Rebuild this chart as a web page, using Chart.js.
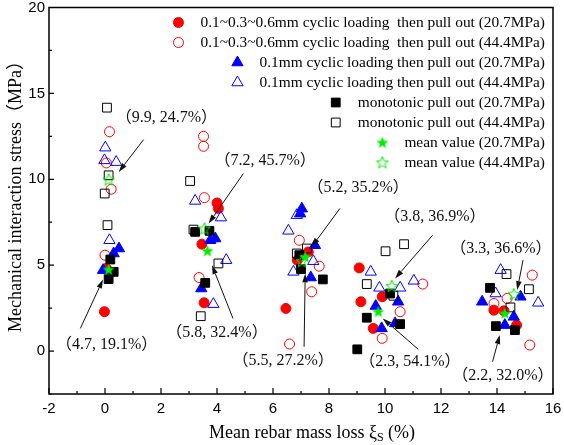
<!DOCTYPE html>
<html>
<head>
<meta charset="utf-8">
<script src="https://cdn.jsdelivr.net/npm/chart.js@4/dist/chart.umd.min.js"></script>
<style>
  html, body { margin: 0; padding: 0; background: #fff; }
</style>
</head>
<body>
<canvas id="chart" width="564" height="445"></canvas>
<script>
// series labels (legend order)
const seriesLabels = [
  "0.1~0.3~0.6mm cyclic loading  then pull out (20.7MPa)",
  "0.1~0.3~0.6mm cyclic loading  then pull out (44.4MPa)",
  "0.1mm cyclic loading then pull out (20.7MPa)",
  "0.1mm cyclic loading then pull out (44.4MPa)",
  "monotonic pull out (20.7MPa)",
  "monotonic pull out (44.4MPa)",
  "mean value (20.7MPa)",
  "mean value (44.4MPa)"
];

// mass loss (%) and stress (MPa)
const cyc06LowX = [0.05, -0.02, 4.0, 4.05, 3.46, 3.54, 7.26, 6.87, 6.46, 9.08, 9.9, 9.14, 9.58, 13.89, 14.25, 14.7];
const cyc06LowY = [4.81, 2.29, 8.62, 8.3, 6.22, 2.81, 5.77, 5.29, 2.48, 4.84, 3.16, 2.87, 1.32, 2.38, 2.34, 1.51];

const cyc06HighX = [0.16, 0.05, 0.22, 0.0, 3.52, 3.52, 3.55, 3.36, 6.94, 7.65, 7.38, 6.59, 11.35, 10.54, 9.9, 15.26, 14.36, 13.89, 15.17];
const cyc06HighY = [12.77, 10.95, 9.42, 5.58, 12.5, 11.92, 8.93, 4.28, 6.45, 4.94, 3.45, 0.41, 3.9, 2.29, 0.74, 4.42, 3.06, 2.77, 0.35];

const cyc01LowX = [0.5, 0.31, -0.07, 3.94, 3.76, 3.44, 7.03, 6.97, 7.5, 7.35, 10.47, 9.67, 10.36, 9.88, 14.84, 13.47, 14.6, 14.28];
const cyc01LowY = [5.97, 5.68, 4.71, 6.55, 6.45, 3.64, 8.29, 8.0, 6.16, 4.28, 2.87, 2.62, 1.61, 1.32, 3.16, 2.87, 1.99, 1.51];

const cyc01HighX = [0.01, -0.02, 0.4, 0.16, 3.22, 4.14, 4.33, 3.87, 6.85, 6.55, 7.44, 6.73, 9.49, 9.8, 10.54, 11.03, 14.13, 13.95, 15.47];
const cyc01HighY = [11.84, 11.1, 11.0, 6.45, 8.74, 7.77, 5.29, 2.73, 7.91, 7.0, 5.23, 4.61, 4.61, 3.68, 3.68, 4.09, 4.71, 3.35, 2.81];

const monoLowX = [0.19, 0.31, 0.13, 3.22, 3.73, 3.58, 6.94, 7.0, 7.78, 10.18, 9.35, 10.54, 9.01, 13.75, 13.96, 14.64];
const monoLowY = [5.33, 4.61, 4.19, 6.94, 7.0, 3.97, 5.58, 4.77, 4.17, 3.35, 1.94, 1.57, 0.1, 3.68, 1.45, 1.22];

const monoHighX = [0.07, 0.13, -0.01, 0.09, 3.04, 3.16, 4.05, 3.42, 7.21, 6.85, 10.02, 10.68, 9.35, 10.3, 14.34, 15.14, 14.48];
const monoHighY = [14.17, 10.23, 9.17, 7.33, 9.9, 7.07, 5.1, 2.03, 5.97, 5.68, 5.81, 6.22, 3.9, 3.22, 4.48, 3.6, 2.54];

const meanLowX = [0.13, 3.66, 7.15, 9.76, 14.28];
const meanLowY = [4.75, 5.83, 5.48, 2.29, 2.19];
const meanHighX = [0.13, 3.55, 7.03, 10.24, 14.6];
const meanHighY = [9.98, 7.13, 5.23, 3.78, 3.31];

// annotation texts (mean stress, loss ratio)
const noteLabels = ["（9.9, 24.7%）", "（4.7, 19.1%）", "（7.2, 45.7%）", "（5.8, 32.4%）", "（5.2, 35.2%）",
                    "（5.5, 27.2%）", "（3.8, 36.9%）", "（2.3, 54.1%）", "（3.3, 36.6%）", "（2.2, 32.0%）"];

// where the notes and their arrows sit, in axis units
const notePos = [[2.19, 13.55], [0.06, 0.35], [5.72, 11.05], [4.0, 1.05], [9.04, 9.48],
                 [6.36, -0.58], [11.78, 7.79], [10.89, -0.64], [14.14, 5.93], [14.21, -1.45]];
const noteArrows = [[1.38, 12.31, 0.49, 10.43], [-0.88, 1.32, -0.07, 4.17], [4.94, 10.33, 3.70, 7.42],
                    [4.57, 1.9, 3.82, 5.0], [8.39, 8.3, 7.38, 6.06], [7.11, 0.25, 7.15, 4.52],
                    [11.7, 6.74, 10.36, 4.23], [11.19, 0.1, 9.92, 1.9], [14.93, 5.29, 14.72, 3.55],
                    [13.84, -0.62, 14.1, 0.93]];

const serif = '"Liberation Serif", "Noto Sans CJK SC", serif';
const sans = '"Liberation Sans", Arial, sans-serif';

function toPoints(xs, ys) {
  return xs.map((x, i) => ({ x: x, y: ys[i] }));
}

// five point star as an image, filled or hollow
function makeStar(filled) {
  const c = document.createElement("canvas");
  c.width = 14; c.height = 14;
  const g = c.getContext("2d");
  const R = 6.3, r = 2.7, cx = 7, cy = 7.4;
  g.beginPath();
  for (let i = 0; i < 10; i++) {
    const rad = i % 2 === 0 ? R : r;
    const a = -Math.PI / 2 + i * Math.PI / 5;
    g.lineTo(cx + rad * Math.cos(a), cy + rad * Math.sin(a));
  }
  g.closePath();
  if (filled) {
    g.fillStyle = "#00ee00";
    g.fill();
  } else {
    g.strokeStyle = "#00ee00";
    g.lineWidth = 1;
    g.stroke();
  }
  return c;
}
const starFull = makeStar(true);
const starHollow = makeStar(false);

const clear = "rgba(0,0,0,0)";
const styles = [
  { pointStyle: "circle", pointRadius: 5, backgroundColor: "#ff0000", borderColor: "#ff0000" },
  { pointStyle: "circle", pointRadius: 5, backgroundColor: clear, borderColor: "#ff0000" },
  { pointStyle: "triangle", pointRadius: 6.5, backgroundColor: "#0000ff", borderColor: "#0000ff" },
  { pointStyle: "triangle", pointRadius: 6.5, backgroundColor: clear, borderColor: "#0000ff" },
  { pointStyle: "rect", pointRadius: 6.2, backgroundColor: "#000000", borderColor: "#000000" },
  { pointStyle: "rect", pointRadius: 6.2, backgroundColor: clear, borderColor: "#000000" },
  { pointStyle: starFull, pointRadius: 6, backgroundColor: "#00ee00", borderColor: "#00ee00" },
  { pointStyle: starHollow, pointRadius: 6, backgroundColor: clear, borderColor: "#00ee00" }
];
const seriesData = [
  toPoints(cyc06LowX, cyc06LowY), toPoints(cyc06HighX, cyc06HighY),
  toPoints(cyc01LowX, cyc01LowY), toPoints(cyc01HighX, cyc01HighY),
  toPoints(monoLowX, monoLowY), toPoints(monoHighX, monoHighY),
  toPoints(meanLowX, meanLowY), toPoints(meanHighX, meanHighY)
];

const datasets = seriesLabels.map((label, i) => Object.assign({
  label: label,
  data: seriesData[i],
  borderWidth: 1,
  pointHoverRadius: styles[i].pointRadius,
  order: 7 - i
}, styles[i]));

function drawMarker(ctx, st, x, y) {
  if (st.pointStyle instanceof HTMLCanvasElement) {
    ctx.drawImage(st.pointStyle, x - st.pointStyle.width / 2, y - st.pointStyle.height / 2);
    return;
  }
  const r = st.pointRadius;
  ctx.beginPath();
  if (st.pointStyle === "circle") {
    ctx.arc(x, y, r, 0, Math.PI * 2);
  } else if (st.pointStyle === "triangle") {
    ctx.moveTo(x, y - r);
    ctx.lineTo(x + r * Math.sin(Math.PI * 2 / 3), y + r / 2);
    ctx.lineTo(x - r * Math.sin(Math.PI * 2 / 3), y + r / 2);
    ctx.closePath();
  } else {
    const s = r * Math.SQRT1_2;
    ctx.rect(x - s, y - s, 2 * s, 2 * s);
  }
  ctx.fillStyle = st.backgroundColor;
  ctx.strokeStyle = st.borderColor;
  ctx.lineWidth = 1;
  ctx.fill();
  ctx.stroke();
}

function arrow(ctx, x1, y1, x2, y2) {
  const ang = Math.atan2(y2 - y1, x2 - x1);
  const head = 9, half = 2.8;
  const bx = x2 - head * Math.cos(ang), by = y2 - head * Math.sin(ang);
  ctx.beginPath();
  ctx.moveTo(x1, y1);
  ctx.lineTo(bx, by);
  ctx.stroke();
  ctx.beginPath();
  ctx.moveTo(x2, y2);
  ctx.lineTo(bx + half * Math.sin(ang), by - half * Math.cos(ang));
  ctx.lineTo(bx - half * Math.sin(ang), by + half * Math.cos(ang));
  ctx.closePath();
  ctx.fill();
}

const decorations = {
  id: "decorations",
  afterDraw(chart) {
    const ctx = chart.ctx;
    const a = chart.chartArea;
    const xs = chart.scales.x, ys = chart.scales.y;
    ctx.save();

    // inward tick marks
    ctx.strokeStyle = "#000";
    ctx.lineWidth = 1.2;
    ctx.beginPath();
    for (let v = -2; v <= 16; v += 1) {
      const px = xs.getPixelForValue(v);
      ctx.moveTo(px, a.bottom);
      ctx.lineTo(px, a.bottom - (v % 2 === 0 ? 6 : 3));
    }
    for (let v = -2.5; v <= 20; v += 2.5) {
      const py = ys.getPixelForValue(v);
      ctx.moveTo(a.left, py);
      ctx.lineTo(a.left + (v % 5 === 0 ? 5 : 3), py);
    }
    ctx.stroke();

    // frame
    ctx.lineWidth = 1.5;
    ctx.strokeRect(a.left, a.top, a.right - a.left, a.bottom - a.top);

    // notes with arrows
    ctx.fillStyle = "#111";
    ctx.strokeStyle = "#111";
    ctx.lineWidth = 1;
    ctx.font = "16px " + serif;
    ctx.textAlign = "center";
    ctx.textBaseline = "middle";
    noteLabels.forEach((t, i) => {
      ctx.fillText(t, xs.getPixelForValue(notePos[i][0]), ys.getPixelForValue(notePos[i][1]));
      const ar = noteArrows[i];
      arrow(ctx, xs.getPixelForValue(ar[0]), ys.getPixelForValue(ar[1]),
                 xs.getPixelForValue(ar[2]), ys.getPixelForValue(ar[3]));
    });

    // legend, right aligned text with marker in front
    ctx.font = "15.4px " + serif;
    ctx.textAlign = "right";
    const textRight = a.right - 8;
    seriesLabels.forEach((t, i) => {
      const yy = a.top + 15 + i * 20;
      ctx.fillStyle = "#000";
      ctx.fillText(t, textRight, yy);
      const w = ctx.measureText(t).width;
      drawMarker(ctx, styles[i], textRight - w - 22, yy);
    });

    // x title with subscript
    ctx.fillStyle = "#000";
    ctx.textAlign = "left";
    const p1 = "Mean rebar mass loss ξ", p3 = " (%)";
    ctx.font = "18px " + serif;
    const w1 = ctx.measureText(p1).width, w3 = ctx.measureText(p3).width;
    ctx.font = "12px " + serif;
    const w2 = ctx.measureText("S").width;
    const tx = 312 - (w1 + w2 + w3) / 2;
    const ty = 433;
    ctx.font = "18px " + serif;
    ctx.fillText(p1, tx, ty);
    ctx.font = "12px " + serif;
    ctx.fillText("S", tx + w1, ty + 5);
    ctx.font = "18px " + serif;
    ctx.fillText(p3, tx + w1 + w2, ty);

    // y title
    ctx.translate(16, 192);
    ctx.rotate(-Math.PI / 2);
    ctx.textAlign = "center";
    ctx.fillText("Mechanical interaction stress（MPa）", 0, 0);
    ctx.restore();
  }
};

new Chart(document.getElementById("chart").getContext("2d"), {
  type: "scatter",
  data: { datasets: datasets },
  options: {
    responsive: false,
    animation: false,
    layout: { padding: { left: 0, right: 11, top: 7, bottom: 0 } },
    plugins: { legend: { display: false }, tooltip: { enabled: false } },
    scales: {
      x: {
        type: "linear",
        min: -2, max: 16,
        grid: { display: false, drawTicks: false },
        border: { display: false },
        ticks: { stepSize: 2, padding: 6, color: "#000", font: { family: sans, size: 15 } },
        afterFit(s) { s.height = 51; s.paddingLeft = 0; s.paddingRight = 0; }
      },
      y: {
        type: "linear",
        min: -2.5, max: 20,
        grid: { display: false, drawTicks: false },
        border: { display: false },
        ticks: {
          stepSize: 2.5, padding: 4, color: "#000", font: { family: sans, size: 15 },
          callback: v => (v % 5 === 0 ? String(v) : "")
        },
        afterFit(s) { s.width = 49; s.paddingTop = 0; s.paddingBottom = 0; }
      }
    }
  },
  plugins: [decorations]
});
</script>
</body>
</html>
